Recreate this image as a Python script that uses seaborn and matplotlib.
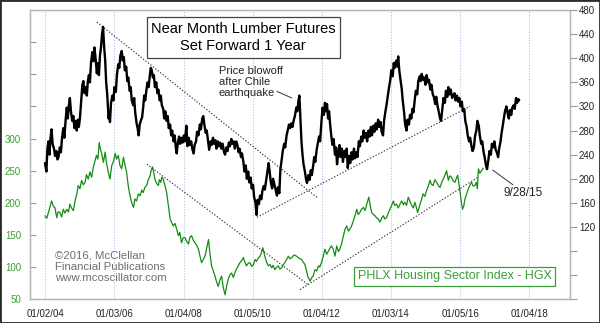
import numpy as np
import pandas as pd
import matplotlib
matplotlib.use("Agg")
import matplotlib.pyplot as plt
from matplotlib.patches import Rectangle
import seaborn as sns

# ---------------- data ----------------
# Near-month lumber futures: (actual trade date as decimal year, price $)
lumber_points = [
    (2003.00, 226), (2003.04, 212), (2003.07, 250), (2003.10, 262), (2003.13, 240), (2003.16, 268),
    (2003.19, 282), (2003.22, 258), (2003.26, 250), (2003.29, 238), (2003.33, 246), (2003.36, 232),
    (2003.39, 236), (2003.43, 252), (2003.46, 244), (2003.49, 266), (2003.53, 284), (2003.56, 268),
    (2003.60, 300), (2003.63, 318), (2003.66, 300), (2003.69, 322), (2003.72, 334), (2003.75, 312),
    (2003.79, 296), (2003.82, 304), (2003.85, 284), (2003.88, 296), (2003.92, 280), (2003.95, 298),
    (2003.98, 286), (2004.01, 300), (2004.05, 332), (2004.08, 355), (2004.11, 362), (2004.14, 342),
    (2004.18, 352), (2004.21, 338), (2004.24, 362), (2004.27, 372), (2004.30, 360), (2004.33, 392),
    (2004.37, 410), (2004.40, 395), (2004.43, 418), (2004.46, 402), (2004.50, 375), (2004.53, 392),
    (2004.56, 372), (2004.59, 404), (2004.62, 418), (2004.65, 440), (2004.68, 452), (2004.71, 420),
    (2004.74, 398), (2004.77, 360), (2004.80, 340), (2004.84, 300), (2004.86, 310), (2004.88, 294),
    (2004.91, 326), (2004.95, 338), (2004.98, 330), (2005.01, 352), (2005.05, 344), (2005.08, 372),
    (2005.12, 390), (2005.15, 384), (2005.18, 404), (2005.22, 412), (2005.25, 396), (2005.28, 402),
    (2005.31, 380), (2005.35, 386), (2005.38, 362), (2005.41, 368), (2005.45, 346), (2005.48, 352),
    (2005.51, 330), (2005.55, 322), (2005.58, 334), (2005.61, 310), (2005.65, 292), (2005.68, 284),
    (2005.71, 272), (2005.74, 290), (2005.77, 296), (2005.81, 302), (2005.84, 318), (2005.87, 338),
    (2005.90, 330), (2005.94, 350), (2005.97, 360), (2006.00, 352), (2006.03, 370), (2006.06, 384),
    (2006.09, 380), (2006.12, 368), (2006.15, 372), (2006.18, 352), (2006.22, 360), (2006.25, 342),
    (2006.28, 348), (2006.32, 330), (2006.35, 338), (2006.38, 322), (2006.42, 316), (2006.45, 300),
    (2006.48, 312), (2006.52, 296), (2006.55, 304), (2006.58, 284), (2006.62, 290), (2006.65, 272),
    (2006.68, 280), (2006.72, 262), (2006.75, 272), (2006.78, 254), (2006.81, 242), (2006.85, 262),
    (2006.88, 270), (2006.91, 258), (2006.95, 268), (2006.98, 260), (2007.02, 272), (2007.05, 262),
    (2007.09, 288), (2007.12, 254), (2007.16, 268), (2007.19, 256), (2007.23, 262), (2007.26, 250),
    (2007.30, 242), (2007.33, 256), (2007.37, 262), (2007.40, 278), (2007.44, 272), (2007.48, 290),
    (2007.51, 282), (2007.55, 300), (2007.58, 304), (2007.61, 290), (2007.65, 276), (2007.68, 280),
    (2007.72, 262), (2007.75, 248), (2007.79, 262), (2007.82, 256), (2007.86, 268), (2007.89, 258),
    (2007.93, 264), (2007.96, 250), (2008.00, 262), (2008.03, 254), (2008.07, 260), (2008.10, 250),
    (2008.14, 258), (2008.18, 244), (2008.21, 240), (2008.25, 252), (2008.28, 246), (2008.32, 260),
    (2008.35, 254), (2008.39, 266), (2008.42, 258), (2008.46, 262), (2008.49, 250), (2008.53, 262),
    (2008.56, 258), (2008.60, 244), (2008.63, 250), (2008.67, 236), (2008.70, 242), (2008.74, 228),
    (2008.77, 212), (2008.81, 222), (2008.84, 200), (2008.88, 212), (2008.91, 194), (2008.95, 202),
    (2008.98, 184), (2009.02, 190), (2009.05, 170), (2009.09, 160), (2009.12, 140), (2009.15, 165),
    (2009.19, 158), (2009.22, 172), (2009.26, 166), (2009.29, 180), (2009.33, 188), (2009.36, 182),
    (2009.40, 198), (2009.43, 210), (2009.47, 226), (2009.50, 212), (2009.53, 196), (2009.57, 184),
    (2009.60, 200), (2009.64, 190), (2009.67, 182), (2009.71, 172), (2009.74, 186), (2009.78, 176),
    (2009.81, 215), (2009.85, 232), (2009.88, 246), (2009.92, 258), (2009.95, 252), (2009.99, 272),
    (2010.02, 280), (2010.06, 290), (2010.09, 284), (2010.13, 292), (2010.16, 286), (2010.20, 298),
    (2010.23, 304), (2010.27, 318), (2010.30, 312), (2010.33, 328), (2010.36, 338), (2010.39, 300),
    (2010.42, 262), (2010.45, 240), (2010.48, 224), (2010.52, 212), (2010.55, 200), (2010.58, 193),
    (2010.62, 206), (2010.65, 198), (2010.69, 214), (2010.72, 206), (2010.76, 222), (2010.79, 236),
    (2010.82, 228), (2010.86, 248), (2010.89, 258), (2010.93, 270), (2010.96, 262), (2011.00, 296),
    (2011.03, 318), (2011.07, 306), (2011.10, 326), (2011.13, 312), (2011.16, 324), (2011.19, 300),
    (2011.22, 312), (2011.25, 290), (2011.29, 268), (2011.32, 256), (2011.35, 266), (2011.39, 240),
    (2011.42, 252), (2011.45, 224), (2011.49, 246), (2011.52, 256), (2011.55, 236), (2011.59, 250),
    (2011.62, 228), (2011.66, 246), (2011.69, 236), (2011.73, 250), (2011.76, 218), (2011.80, 238),
    (2011.83, 226), (2011.87, 244), (2011.90, 232), (2011.94, 250), (2011.97, 234), (2012.01, 244),
    (2012.04, 236), (2012.08, 262), (2012.11, 254), (2012.15, 270), (2012.18, 262), (2012.22, 280),
    (2012.25, 268), (2012.29, 276), (2012.32, 262), (2012.36, 280), (2012.39, 270), (2012.43, 286),
    (2012.46, 272), (2012.50, 288), (2012.53, 278), (2012.57, 292), (2012.60, 282), (2012.64, 298),
    (2012.67, 286), (2012.71, 294), (2012.74, 278), (2012.78, 272), (2012.81, 296), (2012.85, 312),
    (2012.88, 322), (2012.92, 338), (2012.95, 350), (2012.99, 364), (2013.02, 380), (2013.06, 370),
    (2013.09, 392), (2013.12, 384), (2013.16, 396), (2013.19, 386), (2013.22, 403), (2013.25, 380),
    (2013.29, 362), (2013.32, 350), (2013.35, 330), (2013.39, 310), (2013.42, 290), (2013.46, 280),
    (2013.49, 298), (2013.53, 290), (2013.56, 306), (2013.60, 300), (2013.63, 316), (2013.66, 310),
    (2013.70, 332), (2013.73, 346), (2013.77, 340), (2013.80, 362), (2013.84, 370), (2013.87, 362),
    (2013.90, 374), (2013.94, 364), (2013.97, 368), (2014.01, 356), (2014.04, 372), (2014.08, 360),
    (2014.11, 364), (2014.15, 348), (2014.18, 356), (2014.22, 340), (2014.25, 336), (2014.29, 324),
    (2014.32, 336), (2014.36, 320), (2014.39, 312), (2014.43, 300), (2014.46, 296), (2014.50, 318),
    (2014.53, 334), (2014.57, 326), (2014.60, 346), (2014.64, 336), (2014.67, 352), (2014.71, 340),
    (2014.74, 348), (2014.78, 334), (2014.81, 338), (2014.85, 342), (2014.88, 330), (2014.92, 338),
    (2014.95, 328), (2014.99, 334), (2015.02, 320), (2015.06, 328), (2015.09, 312), (2015.13, 316),
    (2015.16, 296), (2015.20, 286), (2015.23, 272), (2015.27, 262), (2015.30, 268), (2015.34, 254),
    (2015.37, 246), (2015.41, 252), (2015.44, 270), (2015.48, 280), (2015.51, 296), (2015.55, 288),
    (2015.58, 272), (2015.62, 258), (2015.65, 262), (2015.69, 244), (2015.72, 236), (2015.76, 222),
    (2015.79, 216), (2015.83, 232), (2015.86, 246), (2015.90, 240), (2015.93, 258), (2015.97, 252),
    (2016.00, 262), (2016.04, 248), (2016.07, 244), (2016.11, 236), (2016.14, 250), (2016.18, 262),
    (2016.21, 276), (2016.25, 290), (2016.28, 302), (2016.31, 312), (2016.35, 320), (2016.38, 310),
    (2016.42, 300), (2016.45, 314), (2016.49, 306), (2016.52, 318), (2016.56, 322), (2016.59, 316),
    (2016.63, 334), (2016.66, 326), (2016.70, 332), (2016.72, 330),
]
lumber_year = [p[0] for p in lumber_points]
lumber_price = [p[1] for p in lumber_points]
lumber_shift_years = 1.0  # "Set Forward 1 Year"

# PHLX Housing Sector Index (HGX): (decimal year, index value)
hgx_points = [
    (2004.00, 180), (2004.05, 176), (2004.10, 185), (2004.19, 203), (2004.24, 195), (2004.29, 192),
    (2004.34, 177), (2004.38, 186), (2004.43, 185), (2004.48, 178), (2004.53, 190), (2004.58, 184),
    (2004.63, 190), (2004.68, 186), (2004.72, 198), (2004.77, 192), (2004.82, 188), (2004.87, 203),
    (2004.92, 214), (2004.96, 227), (2005.01, 222), (2005.06, 235), (2005.11, 228), (2005.16, 232),
    (2005.20, 244), (2005.25, 237), (2005.30, 248), (2005.35, 240), (2005.40, 256), (2005.45, 266),
    (2005.49, 274), (2005.53, 268), (2005.57, 294), (2005.60, 284), (2005.64, 277), (2005.69, 263),
    (2005.74, 279), (2005.78, 262), (2005.83, 248), (2005.88, 237), (2005.93, 258), (2005.98, 264),
    (2006.03, 277), (2006.07, 268), (2006.12, 274), (2006.17, 258), (2006.22, 253), (2006.27, 271),
    (2006.31, 260), (2006.36, 248), (2006.41, 226), (2006.46, 211), (2006.51, 200), (2006.56, 193),
    (2006.60, 206), (2006.65, 203), (2006.70, 214), (2006.75, 211), (2006.80, 220), (2006.84, 216),
    (2006.89, 224), (2006.94, 227), (2006.99, 236), (2007.04, 242), (2007.07, 250), (2007.11, 256),
    (2007.15, 246), (2007.18, 237), (2007.23, 230), (2007.28, 227), (2007.31, 236), (2007.35, 232),
    (2007.38, 240), (2007.42, 237), (2007.47, 227), (2007.52, 216), (2007.57, 196), (2007.62, 175),
    (2007.66, 170), (2007.71, 164), (2007.76, 168), (2007.81, 159), (2007.86, 149), (2007.90, 154),
    (2007.95, 138), (2008.00, 146), (2008.05, 146), (2008.10, 140), (2008.15, 136), (2008.19, 146),
    (2008.24, 149), (2008.29, 142), (2008.34, 138), (2008.39, 134), (2008.44, 128), (2008.48, 118),
    (2008.53, 107), (2008.58, 112), (2008.63, 117), (2008.68, 130), (2008.73, 143), (2008.77, 122),
    (2008.82, 102), (2008.87, 94), (2008.92, 86), (2008.96, 78), (2009.01, 70), (2009.06, 80),
    (2009.11, 86), (2009.16, 68), (2009.21, 57), (2009.26, 72), (2009.30, 81), (2009.35, 88),
    (2009.40, 91), (2009.45, 84), (2009.50, 92), (2009.54, 97), (2009.59, 102), (2009.64, 107),
    (2009.69, 110), (2009.74, 115), (2009.78, 108), (2009.83, 102), (2009.88, 106), (2009.93, 107),
    (2009.98, 101), (2010.03, 104), (2010.08, 112), (2010.12, 109), (2010.17, 114), (2010.22, 117),
    (2010.26, 122), (2010.30, 130), (2010.33, 124), (2010.36, 117), (2010.41, 108), (2010.46, 102),
    (2010.51, 104), (2010.56, 99), (2010.60, 103), (2010.65, 96), (2010.70, 100), (2010.75, 102),
    (2010.80, 97), (2010.85, 99), (2010.90, 104), (2010.94, 107), (2010.99, 112), (2011.04, 117),
    (2011.09, 113), (2011.14, 115), (2011.21, 119), (2011.28, 117), (2011.35, 114), (2011.42, 112),
    (2011.47, 108), (2011.52, 104), (2011.56, 96), (2011.60, 86), (2011.64, 82), (2011.67, 78),
    (2011.72, 84), (2011.76, 86), (2011.81, 96), (2011.86, 94), (2011.91, 102), (2011.95, 100),
    (2012.00, 107), (2012.05, 117), (2012.10, 128), (2012.15, 120), (2012.20, 125), (2012.25, 130),
    (2012.29, 133), (2012.34, 128), (2012.39, 117), (2012.44, 133), (2012.49, 124), (2012.53, 128),
    (2012.58, 136), (2012.63, 148), (2012.68, 159), (2012.73, 164), (2012.78, 156), (2012.82, 159),
    (2012.87, 164), (2012.92, 172), (2012.97, 180), (2013.02, 190), (2013.06, 182), (2013.11, 185),
    (2013.16, 190), (2013.21, 193), (2013.26, 188), (2013.31, 198), (2013.37, 209), (2013.41, 196),
    (2013.45, 185), (2013.50, 182), (2013.55, 180), (2013.60, 176), (2013.64, 175), (2013.69, 170),
    (2013.74, 176), (2013.79, 180), (2013.83, 175), (2013.88, 177), (2013.93, 184), (2013.98, 190),
    (2014.03, 196), (2014.08, 203), (2014.12, 196), (2014.17, 198), (2014.22, 192), (2014.27, 198),
    (2014.32, 203), (2014.37, 197), (2014.41, 201), (2014.46, 196), (2014.51, 209), (2014.56, 202),
    (2014.61, 196), (2014.66, 192), (2014.70, 201), (2014.74, 194), (2014.78, 185), (2014.82, 192),
    (2014.85, 198), (2014.90, 206), (2014.94, 214), (2014.99, 210), (2015.04, 219), (2015.09, 226),
    (2015.14, 235), (2015.18, 229), (2015.23, 227), (2015.28, 236), (2015.33, 232), (2015.38, 227),
    (2015.43, 224), (2015.48, 232), (2015.52, 237), (2015.57, 243), (2015.62, 250), (2015.67, 235),
    (2015.71, 242), (2015.76, 240), (2015.81, 234), (2015.86, 232), (2015.90, 238), (2015.94, 243),
    (2015.98, 228), (2016.01, 217), (2016.05, 200), (2016.08, 190), (2016.12, 196), (2016.15, 206),
    (2016.20, 214), (2016.25, 222), (2016.30, 228), (2016.34, 232), (2016.39, 226), (2016.44, 227),
    (2016.48, 232), (2016.51, 222), (2016.54, 253), (2016.58, 246), (2016.63, 250), (2016.68, 254),
]
hgx_year = [p[0] for p in hgx_points]
hgx_value = [p[1] for p in hgx_points]

# Hand-drawn trend lines (plotted year, value)
trend_lumber_down_x = [2005.50, 2011.87]
trend_lumber_down_y = [460, 169]
trend_lumber_up_x = [2010.13, 2016.29]
trend_lumber_up_y = [136, 320]
trend_hgx_down_x = [2006.95, 2011.61]
trend_hgx_down_y = [260, 73]
trend_hgx_up_x = [2011.38, 2016.53]
trend_hgx_up_y = [65, 240]

tick_dates = ["2004-01-02", "2006-01-03", "2008-01-04", "2010-01-05",
              "2012-01-04", "2014-01-03", "2016-01-05", "2018-01-04"]
tick_labels = ["01/02/04", "01/03/06", "01/04/08", "01/05/10",
               "01/04/12", "01/03/14", "01/05/16", "01/04/18"]
left_ticks = [50, 100, 150, 200, 250, 300, 350, 400, 450]
left_labels = ["50", "100", "150", "200", "250", "300", "", "", ""]
right_ticks = [0, 40, 80, 120, 160, 200, 240, 280, 320, 360, 400, 440, 480]
right_labels = ["", "", "", "120", "160", "200", "240", "280", "320", "360", "400", "440", "480"]


def dec_year(s):
    ts = pd.Timestamp(s)
    start = pd.Timestamp(year=ts.year, month=1, day=1)
    return ts.year + (ts - start).days / 365.25


# ---------------- style ----------------
sns.set_style("white")
plt.rcParams["font.family"] = ["Liberation Sans", "DejaVu Sans"]

GREEN = "#148c14"
GREEN_TXT = "#3a9e3a"
GRID = "#a9c4e4"
SPINE = "#b5b5b5"

fig = plt.figure(figsize=(6.0, 3.23), dpi=100)
ax = fig.add_axes([30 / 600, (323 - 299.3) / 323, 540 / 600, 289.3 / 323])
ax2 = ax.twinx()

lumber_df = pd.DataFrame({"year": np.array(lumber_year) + lumber_shift_years,
                          "price": lumber_price})
hgx_df = pd.DataFrame({"year": hgx_year, "value": hgx_value})

sns.lineplot(data=hgx_df, x="year", y="value", ax=ax, color=GREEN,
             linewidth=0.9, estimator=None, sort=False)
sns.lineplot(data=lumber_df, x="year", y="price", ax=ax2, color="black",
             linewidth=1.7, estimator=None, sort=False)

dot = (0, (1.2, 1.6))
ax.plot(trend_hgx_down_x, trend_hgx_down_y, color="#333333", lw=0.8, ls=dot)
ax.plot(trend_hgx_up_x, trend_hgx_up_y, color="#333333", lw=0.8, ls=dot)
ax2.plot(trend_lumber_down_x, trend_lumber_down_y, color="#333333", lw=0.8, ls=dot)
ax2.plot(trend_lumber_up_x, trend_lumber_up_y, color="#333333", lw=0.8, ls=dot)

# axes limits
ax.set_xlim(2003.566, 2019.19)
ax.set_ylim(50, 500)
ax2.set_ylim(0, 480)

# x ticks
xt = [dec_year(d) for d in tick_dates]
ax.set_xticks(xt)
ax.set_xticklabels(tick_labels)
ax.tick_params(axis="x", length=0, pad=7, labelsize=7, labelcolor="#222222")
ax.grid(axis="x", color=GRID, linestyle=(0, (1, 1.5)), linewidth=0.8)
ax.grid(axis="y", visible=False)
ax2.grid(False)

ax.set_yticks(left_ticks)
ax.set_yticklabels(left_labels)
ax.tick_params(axis="y", direction="in", length=4.5, width=0.8, color="#9a9a9a",
               labelcolor=GREEN_TXT, labelsize=7, pad=6.5)
ax2.set_yticks(right_ticks)
ax2.set_yticklabels(right_labels)
ax2.tick_params(axis="y", direction="out", length=5, width=0.8, color="#9a9a9a",
                labelcolor="#222222", labelsize=7, pad=1.5)

for a in (ax, ax2):
    a.set_xlabel("")
    a.set_ylabel("")
    for sp in a.spines.values():
        sp.set_color(SPINE)
        sp.set_linewidth(0.9)

# ---------------- texts ----------------
ax2.text(0.395, 0.905, "Near Month Lumber Futures\nSet Forward 1 Year",
         transform=ax.transAxes, ha="center", va="center", fontsize=10.5,
         linespacing=1.3, color="black",
         bbox=dict(boxstyle="square,pad=0.3", facecolor="white",
                   edgecolor="#444444", linewidth=0.9), zorder=5)

ax2.text(2009.03, 387, "Price blowoff\nafter Chile\nearthquake", ha="left", va="top",
         fontsize=8, linespacing=1.15, color="#222222")
ax2.plot([2010.71, 2011.14], [345, 334], color="#333333", lw=0.7)

ax2.text(2017.28, 177, "9/28/15", ha="left", va="center", fontsize=8.5, color="#222222")
ax2.plot([2016.95, 2017.54], [214.5, 190], color="#333333", lw=0.7)

ax.text(0.046, 0.17, "\u00a92016, McClellan\nFinancial Publications\nwww.mcoscillator.com",
        transform=ax.transAxes, ha="left", va="top", fontsize=8.2, linespacing=1.2,
        color="#6e6e6e")

ax2.text(0.786, 0.079, "PHLX Housing Sector Index - HGX", transform=ax.transAxes,
         ha="center", va="center", fontsize=9, color=GREEN_TXT,
         bbox=dict(boxstyle="square,pad=0.25", facecolor="white",
                   edgecolor=GREEN_TXT, linewidth=0.9), zorder=5)

fig.patches.append(Rectangle((0, 0), 1, 1, transform=fig.transFigure, fill=False,
                             edgecolor="#2a2a2a", linewidth=2.0))

fig.savefig("out.png", dpi=100, facecolor="white")
